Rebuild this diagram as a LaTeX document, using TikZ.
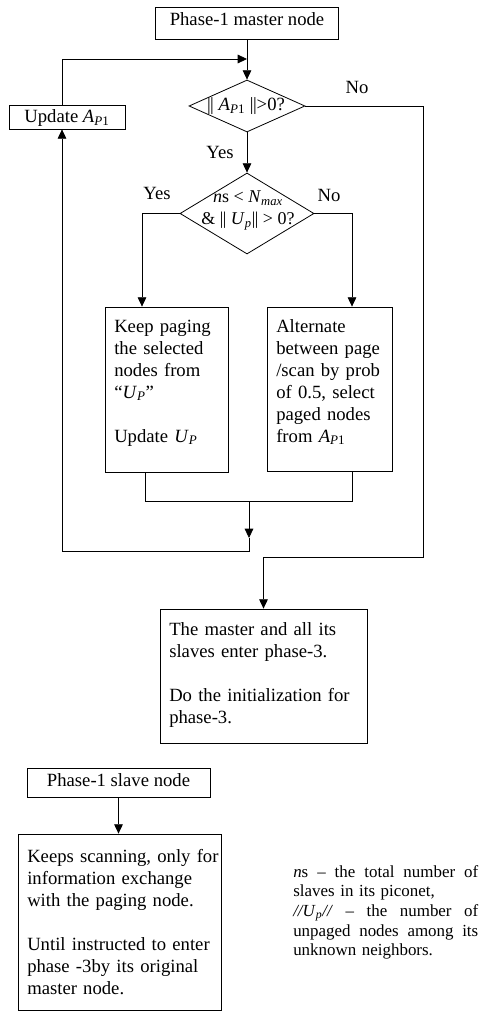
\documentclass[tikz,border=0pt]{standalone}
\usepackage{fontspec}
\setmainfont{Liberation Serif}
\usetikzlibrary{arrows.meta,shapes.geometric}
\tikzset{
  box/.style={draw, rectangle, line width=0.6pt},
  dia/.style={draw, diamond, line width=0.6pt},
  sz/.style 2 args={minimum width={#1*0.75pt}, minimum height={#2*0.75pt}},
  txt/.style={align=left, text width=200pt, anchor=base west},
  con/.style={line width=0.6pt},
  arr/.style={con, -{Triangle[length=7pt,width=6.5pt]}},
  notefont/.style={font=\fontsize{12.7}{14.8}\selectfont}
}
\newcommand\jl[1]{\leavevmode\hbox to 138.75pt{#1}}
\begin{document}
\begin{tikzpicture}[x=0.75pt,y=-0.75pt,
  every node/.style={font=\fontsize{14}{16.5}\selectfont, inner sep=0pt}]
\useasboundingbox (0,0) rectangle (483,1012);

% boxes
\node[box, sz={183}{32}] (master) at (247,23) {};
\node[anchor=base] (mastert) at (247,26) {Phase-1 master node};

\node[box, sz={116}{24}] (upd) at (67,117) {};
\node[anchor=base] (updt) at (67,123) {Update \textit{A}\textsubscript{\textit{P}1}};

\node[dia, sz={116}{52}] (d1) at (247,106) {};
\node[anchor=base] (d1t) at (246,111) {|\kern-0.5pt| \textit{A}\textsubscript{\textit{P}1} |\kern-0.5pt|>0?};

\node[dia, sz={134}{81}] (d2) at (247,213.5) {};
\node[anchor=base, font=\fontsize{13.5}{16}\selectfont] (d2a) at (248,203) {\textit{n}s < \textit{N}\textsubscript{\textit{max}}};
\node[anchor=base, font=\fontsize{13.5}{16}\selectfont] (d2b) at (248,225) {\& |\kern-0.5pt| \textit{U}\textsubscript{\textit{p}}|\kern-0.5pt| > 0?};

\node[box, sz={123}{165}] (kp) at (166.5,389.5) {};
\node[txt] (kpt) at (114,332) {Keep paging\\the selected\\nodes from\\“\textit{U}\textsubscript{\textit{P}}”\\[16.5pt]Update \textit{U}\textsubscript{\textit{P}}};

\node[box, sz={125}{164}] (alt) at (329.5,389) {};
\node[txt] (altt) at (276,332) {Alternate\\between page\\/scan by prob\\of 0.5, select\\paged nodes\\from \textit{A}\textsubscript{\textit{P}1}};

\node[box, sz={207}{134}] (p3) at (263.5,676) {};
\node[txt] (p3t) at (169,635) {The master and all its\\slaves enter phase-3.\\[16.5pt]Do the initialization for\\phase-3.};

\node[box, sz={183}{29}] (slave) at (118.5,782.5) {};
\node[anchor=base] (slavet) at (118.5,786) {Phase-1 slave node};

\node[box, sz={203}{176}] (scan) at (119.5,922) {};
\node[txt] (scant) at (27,862) {Keeps scanning, only for\\information exchange\\with the paging node.\\[16.5pt]Until instructed to enter\\phase -3by its original\\master node.};

\node[txt, notefont] (note) at (293,877) {\jl{\textit{n}s\hfill–\hfill the\hfill total\hfill number\hfill of}\\slaves in its piconet,\\\jl{\textit{//U}\textsubscript{\textit{p}}\textit{//}\hfill–\hfill the\hfill number\hfill of}\\\jl{unpaged\hfill nodes\hfill among\hfill its}\\unknown neighbors.};

% labels
\node[anchor=base] (no1) at (357,94) {No};
\node[anchor=base] (yes1) at (220,159) {Yes};
\node[anchor=base] (yes2) at (157,200) {Yes};
\node[anchor=base] (no2) at (329,202) {No};

% helper coordinates
\coordinate (lx) at (62,0);
\coordinate (j1) at (247,59);
\coordinate (r1) at (423,557);
\coordinate (kx) at (142,0);
\coordinate (ax) at (352,0);
\coordinate (kb) at (145,0);
\coordinate (my) at (0,501);
\coordinate (m) at (249,501);
\coordinate (m2) at (249,538);
\coordinate (m3) at (249,551);

% connectors
\draw[arr] (master.south) -- (d1.north);
\draw[arr] (upd.north -| lx) |- (j1);
\draw[arr] (d1.east) -| (r1) -| (p3.north);
\draw[arr] (d1.south) -- (d2.north);
\draw[arr] (d2.west) -| (kp.north -| kx);
\draw[arr] (d2.east) -| (alt.north -| ax);
\draw[con] (kp.south -| kb) |- (ax |- my) -- (alt.south -| ax);
\draw[arr] (m) -- (m2);
\draw[arr] (m2) -- (m3) -| (upd.south -| lx);
\draw[arr] (slave.south) -- (slave.south |- scan.north);
\end{tikzpicture}
\end{document}
